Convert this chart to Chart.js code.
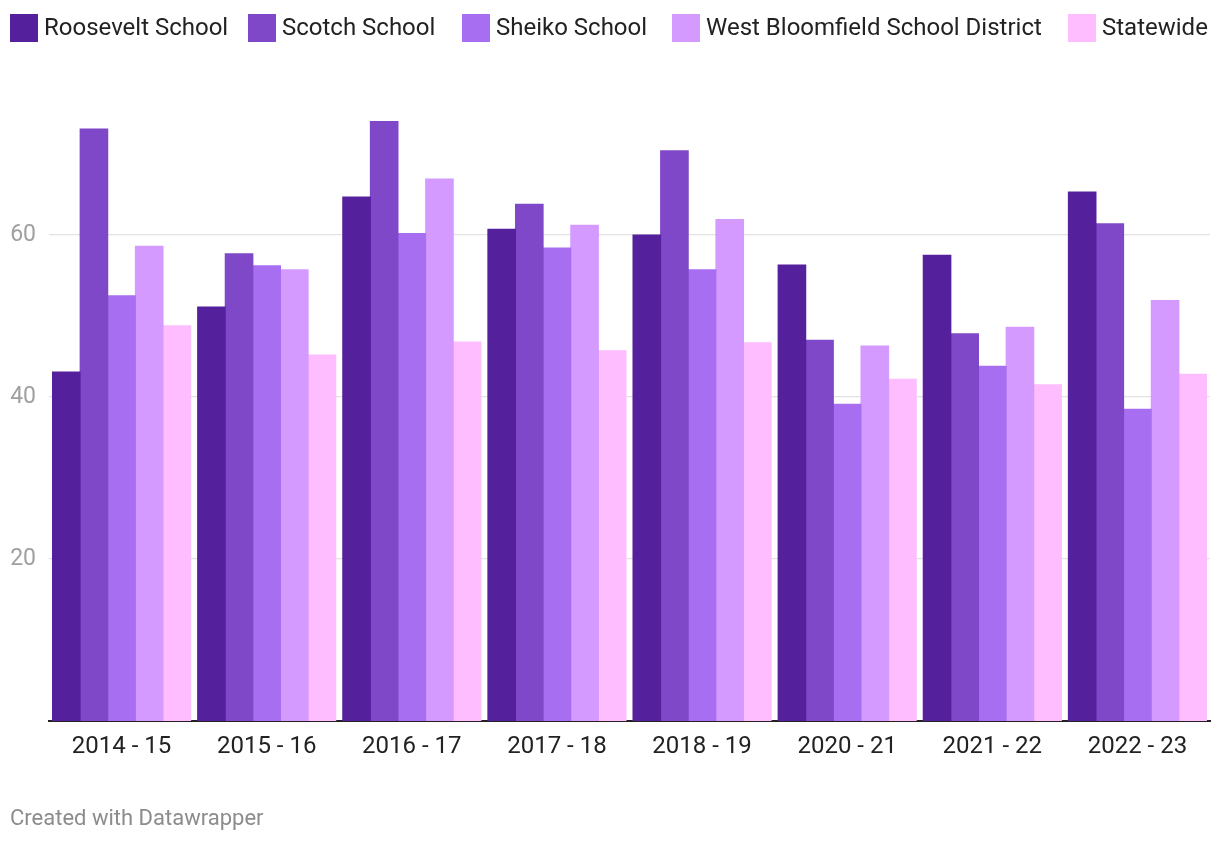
<!DOCTYPE html>
<html><head><meta charset="utf-8">
<script src="https://cdn.jsdelivr.net/npm/chart.js@4"></script>
<style>
html,body{margin:0;padding:0;background:#fff;}
body{width:1220px;height:844px;position:relative;overflow:hidden;font-family:Roboto,"Noto Sans",sans-serif;}
.li{position:absolute;top:14px;height:28px;display:flex;align-items:center;white-space:nowrap;font-size:24px;line-height:28px;color:#222;}
.li span{position:relative;top:-1px;}
.sw{width:28px;height:28px;margin-right:6px;flex:none;}
#footer{position:absolute;left:10px;top:804px;font-size:22px;line-height:28px;color:#8c8c8c;}
#wrap{position:absolute;left:0;top:0;width:1220px;height:844px;}
</style></head>
<body>
<div id="wrap"><canvas id="c" width="1220" height="844"></canvas></div>
<div id="legend"></div>
<div id="footer">Created with Datawrapper</div>
<script>
const categories = ["2014 - 15","2015 - 16","2016 - 17","2017 - 18","2018 - 19","2020 - 21","2021 - 22","2022 - 23"];
const seriesNames = ["Roosevelt School","Scotch School","Sheiko School","West Bloomfield School District","Statewide"];
const roosevelt = [43.1,51.1,64.7,60.7,60.0,56.3,57.5,65.3];
const scotch = [73.1,57.7,74.0,63.8,70.4,47.0,47.8,61.4];
const sheiko = [52.5,56.2,60.2,58.4,55.7,39.1,43.8,38.5];
const westBloomfield = [58.6,55.7,66.9,61.2,61.9,46.3,48.6,51.9];
const statewide = [48.8,45.2,46.8,45.7,46.7,42.2,41.5,42.8];
const yTicks = [0,20,40,60];
const colors = ["#55209c","#7e48c8","#a86ef2","#d49aff","#fdbdff"];
const legendLeft = [10,248,462,672,1068];

const values = [roosevelt, scotch, sheiko, westBloomfield, statewide];
const lg = document.getElementById('legend');
seriesNames.forEach((n,i)=>{
  const d=document.createElement('div');d.className='li';d.style.left=legendLeft[i]+'px';
  d.innerHTML='<div class="sw" style="background:'+colors[i]+'"></div><span>'+n+'</span>';
  lg.appendChild(d);
});

new Chart(document.getElementById('c'),{
  type:'bar',
  data:{labels:categories,datasets:seriesNames.map((n,i)=>({label:n,data:values[i],backgroundColor:colors[i],borderWidth:0,inflateAmount:0.5,categoryPercentage:0.952,barPercentage:1}))},
  options:{
    responsive:false,animation:false,
    layout:{padding:{top:73,right:10,left:0,bottom:0}},
    plugins:{legend:{display:false},tooltip:{enabled:false}},
    scales:{
      x:{grid:{display:false,drawTicks:false},border:{display:true,color:'#222',width:2},
         ticks:{color:'#222',font:{family:'Roboto',size:24},padding:12,maxRotation:0},
         afterFit:s=>{s.height=844-721;}},
      y:{min:0,max:80,
         afterBuildTicks:s=>{s.ticks=yTicks.filter(v=>v>0).map(v=>({value:v}));},
         afterFit:s=>{s.width=49;},
         grid:{color:'#e2e2e2',lineWidth:1.3,drawTicks:false},border:{display:false},
         ticks:{color:'#a0a0a0',font:{family:'Roboto',size:23},padding:13}}
    }
  }
});
</script>
</body></html>
